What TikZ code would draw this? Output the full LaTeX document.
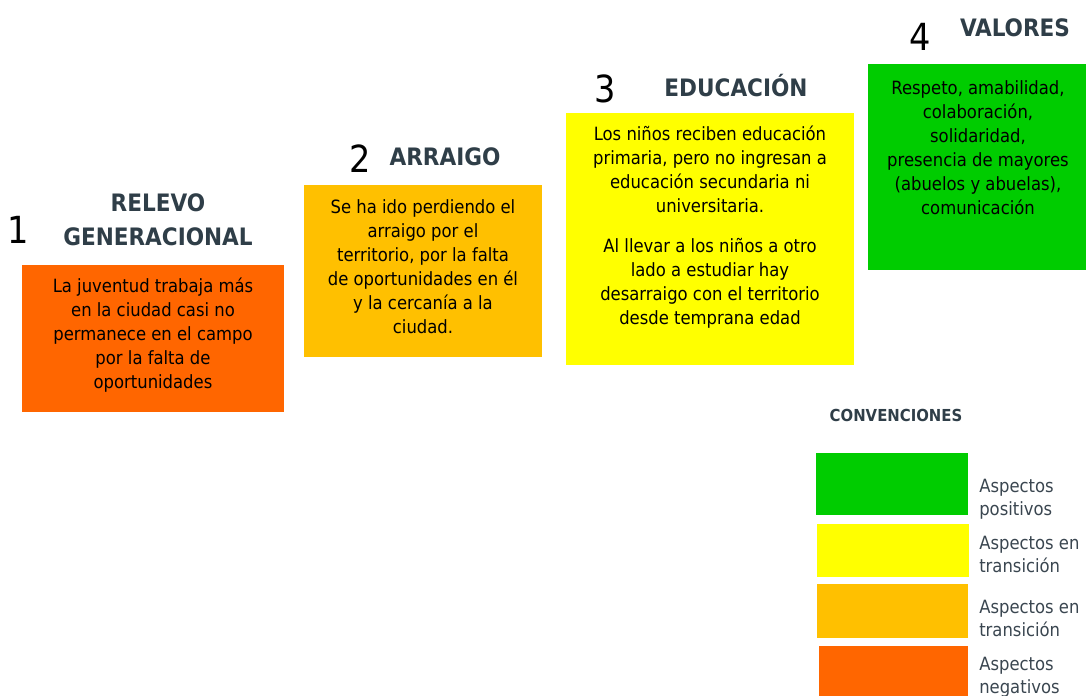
\documentclass[tikz,border=0pt]{standalone}
\usepackage{fontspec}
\setmainfont{DejaVu Sans Condensed}
\definecolor{cneg}{HTML}{FF6600}
\definecolor{camb}{HTML}{FFC000}
\definecolor{cyel}{HTML}{FFFF00}
\definecolor{cpos}{HTML}{00CC00}
\definecolor{headc}{HTML}{2F3E48}
\definecolor{legc}{HTML}{3A4650}
\begin{document}
\begin{tikzpicture}[x=0.75pt,y=-0.75pt]
\useasboundingbox (0,0) rectangle (1086,696);
\tikzset{
  card/.style={fill=#1, draw=none, inner sep=0pt, anchor=north west},
  body/.style={align=center, inner sep=0pt, font=\fontsize{13.7}{18}\selectfont, text=black},
  head/.style={align=center, inner sep=0pt, font=\fontsize{18}{25.5}\selectfont\bfseries, text=headc},
  num/.style={inner sep=0pt, font=\fontsize{28}{30}\selectfont, text=black},
  legtxt/.style={align=left, anchor=west, inner sep=0pt, font=\fontsize{13.7}{17}\selectfont, text=legc}
}
% boxes
\node (b1) [card=cneg, minimum width=196.5pt, minimum height=110.25pt] at (22,265) {};
\node (b2) [card=camb, minimum width=178.5pt, minimum height=129pt] at (304,185) {};
\node (b3) [card=cyel, minimum width=216pt, minimum height=189pt] at (566,113) {};
\node (b4) [card=cpos, minimum width=163.5pt, minimum height=154.5pt] at (868,64) {};
% headings
\node (n1) [num] at (18,230) {1};
\node (h1) [head] at (158,220) {RELEVO\\GENERACIONAL};
\node (n2) [num] at (360,159) {2};
\node (h2) [head] at (445,157) {ARRAIGO};
\node (n3) [num] at (605,89) {3};
\node (h3) [head] at (736,86) {EDUCACIÓN};
\node (n4) [num] at (920,37) {4};
\node (h4) [head] at (1015,28) {VALORES};
% texts
\node (t1) [body] at (153,335.5) {La juventud trabaja más\\en la ciudad casi no\\permanece en el campo\\por la falta de\\oportunidades};
\node (t2) [body] at (423,266.5) {Se ha ido perdiendo el\\arraigo por el\\territorio, por la falta\\de oportunidades en él\\y la cercanía a la\\ciudad.};
\node (t3) [body] at (710,227) {Los niños reciben educación\\primaria, pero no ingresan a\\educación secundaria ni\\universitaria.\\[12.5pt]Al llevar a los niños a otro\\lado a estudiar hay\\desarraigo con el territorio\\desde temprana edad};
\node (t4) [body] at (978,147.5) {Respeto, amabilidad,\\colaboración,\\solidaridad,\\presencia de mayores\\(abuelos y abuelas),\\comunicación};
% legend
\node (conv) [head, font=\fontsize{12.4}{15}\selectfont\bfseries] at (896,415) {CONVENCIONES};
\node (l1) [card=cpos, minimum width=114pt, minimum height=46.5pt] at (816,453) {};
\node (l2) [card=cyel, minimum width=114pt, minimum height=39.75pt] at (817,524) {};
\node (l3) [card=camb, minimum width=113.25pt, minimum height=40.5pt] at (817,584) {};
\node (l4) [card=cneg, minimum width=111.75pt, minimum height=37.5pt] at (819,646) {};
\node (lt1) [legtxt] at (979,499) {Aspectos\\positivos};
\node (lt2) [legtxt] at (979,554.5) {Aspectos en\\transición};
\node (lt3) [legtxt] at (979,618.5) {Aspectos en\\transición};
\node (lt4) [legtxt] at (979,677) {Aspectos\\negativos};
\end{tikzpicture}
\end{document}
